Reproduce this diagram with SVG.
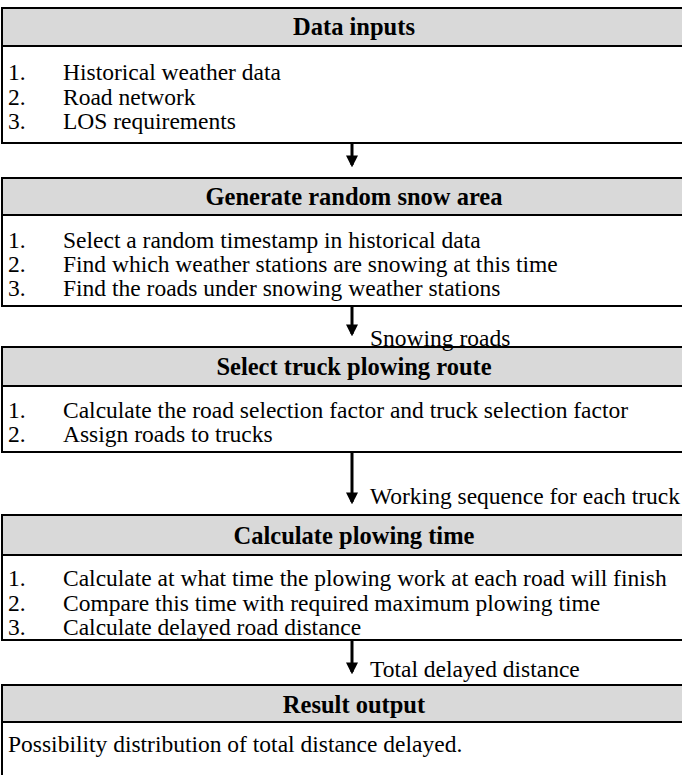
<svg xmlns="http://www.w3.org/2000/svg" width="682" height="775" viewBox="0 0 682 775">
<style>
.box{fill:#fff;stroke:#000;stroke-width:2}
.hdr{fill:#d9d9d9;stroke:#000;stroke-width:2}
.ht{font-family:'Liberation Serif','Times New Roman','DejaVu Serif',serif;font-size:24.5px;font-weight:bold;text-anchor:middle;fill:#000}
.t{font-family:'Liberation Serif','Times New Roman','DejaVu Serif',serif;font-size:23.5px;fill:#000}
.conn{stroke:#000;stroke-width:3;fill:none}
</style>
<defs>
<marker id="ah" markerWidth="4" markerHeight="4" refX="3.2" refY="2" orient="auto" markerUnits="strokeWidth">
<path d="M0,0 L4,2 L0,4 z" fill="#000"/>
</marker>
</defs>
<rect width="682" height="775" fill="#fff"/>
<g id="n1">
<rect class="box" x="2" y="8" width="700" height="135"/>
<rect class="hdr" x="2" y="8" width="700" height="38"/>
<text class="ht" x="354" y="35">Data inputs</text>
<text class="t" x="8" y="80">1.</text><text class="t" x="63" y="80">Historical weather data</text>
<text class="t" x="8" y="105">2.</text><text class="t" x="63" y="105">Road network</text>
<text class="t" x="8" y="129">3.</text><text class="t" x="63" y="129">LOS requirements</text>
</g>
<g id="n2">
<rect class="box" x="2" y="178" width="700" height="128"/>
<rect class="hdr" x="2" y="178" width="700" height="37"/>
<text class="ht" x="354" y="205">Generate random snow area</text>
<text class="t" x="8" y="248">1.</text><text class="t" x="63" y="248">Select a random timestamp in historical data</text>
<text class="t" x="8" y="272">2.</text><text class="t" x="63" y="272">Find which weather stations are snowing at this time</text>
<text class="t" x="8" y="296">3.</text><text class="t" x="63" y="296">Find the roads under snowing weather stations</text>
</g>
<g id="n3">
<rect class="box" x="2" y="347" width="700" height="105"/>
<rect class="hdr" x="2" y="347" width="700" height="39"/>
<text class="ht" x="354" y="375">Select truck plowing route</text>
<text class="t" x="8" y="418">1.</text><text class="t" x="63" y="418">Calculate the road selection factor and truck selection factor</text>
<text class="t" x="8" y="442">2.</text><text class="t" x="63" y="442">Assign roads to trucks</text>
</g>
<g id="n4">
<rect class="box" x="2" y="515" width="700" height="125"/>
<rect class="hdr" x="2" y="515" width="700" height="40"/>
<text class="ht" x="354" y="544">Calculate plowing time</text>
<text class="t" x="8" y="586">1.</text><text class="t" x="63" y="586">Calculate at what time the plowing work at each road will finish</text>
<text class="t" x="8" y="611">2.</text><text class="t" x="63" y="611">Compare this time with required maximum plowing time</text>
<text class="t" x="8" y="635">3.</text><text class="t" x="63" y="635">Calculate delayed road distance</text>
</g>
<g id="n5">
<rect class="box" x="2" y="685" width="700" height="100"/>
<rect class="hdr" x="2" y="685" width="700" height="37"/>
<text class="ht" x="354" y="713">Result output</text>
<text class="t" x="8" y="752">Possibility distribution of total distance delayed.</text>
</g>
<g id="connectors">
<line class="conn" x1="352" y1="143" x2="352" y2="165" marker-end="url(#ah)"/>
<line class="conn" x1="352" y1="306" x2="352" y2="334" marker-end="url(#ah)"/>
<line class="conn" x1="352" y1="452" x2="352" y2="502" marker-end="url(#ah)"/>
<line class="conn" x1="352" y1="640" x2="352" y2="672" marker-end="url(#ah)"/>
<text class="t" x="370" y="346">Snowing roads</text>
<text class="t" x="370" y="504">Working sequence for each truck</text>
<text class="t" x="370" y="677">Total delayed distance</text>
</g>
</svg>
